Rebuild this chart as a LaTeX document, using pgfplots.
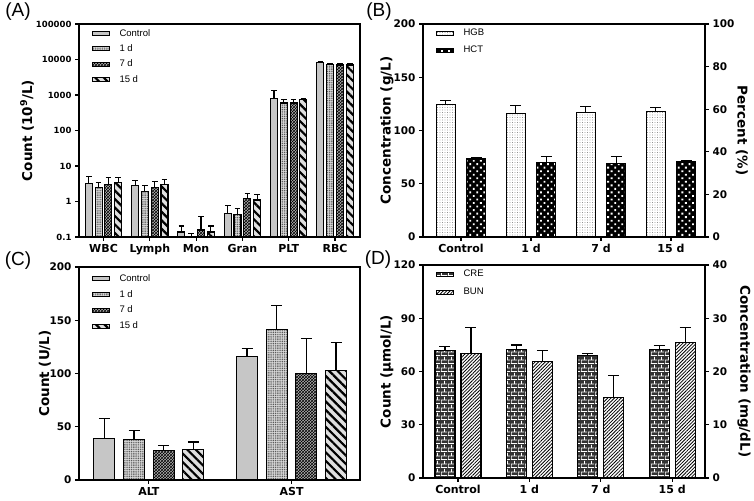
\documentclass[border=0pt]{standalone}
\usepackage{pgfplots}
\pgfplotsset{compat=1.18}
\usepackage{pgfplotstable}
\usepackage{fontspec}
\setmainfont{Liberation Sans}
\newfontfamily\djv{DejaVu Sans}
\usetikzlibrary{patterns,patterns.meta}

\pgfdeclarepatternformonly{mybricks}{\pgfqpoint{0pt}{0pt}}{\pgfqpoint{7pt}{8pt}}{\pgfqpoint{7pt}{8pt}}{%
  \pgfsetlinewidth{0.7pt}%
  \pgfpathmoveto{\pgfqpoint{0pt}{0.5pt}}\pgfpathlineto{\pgfqpoint{7pt}{0.5pt}}%
  \pgfpathmoveto{\pgfqpoint{0pt}{4.5pt}}\pgfpathlineto{\pgfqpoint{7pt}{4.5pt}}%
  \pgfpathmoveto{\pgfqpoint{0.5pt}{0.5pt}}\pgfpathlineto{\pgfqpoint{0.5pt}{4.5pt}}%
  \pgfpathmoveto{\pgfqpoint{4pt}{4.5pt}}\pgfpathlineto{\pgfqpoint{4pt}{8pt}}%
  \pgfusepath{stroke}}

\pgfplotsset{
  mylegend/.style={legend image code/.code={\draw[##1, line width=0.9pt] (0pt,-2pt) rectangle (17pt,2pt);}},
  eb/.style={error bars/y dir=plus, error bars/y explicit,
    error bars/error bar style={line width=1.1pt, black, solid},
    error bars/error mark options={rotate=90, mark size=#1, line width=1.1pt, black, solid}},
  eb/.default=5.5pt,
  sctrl/.style={draw=black, line width=1.1pt, fill=gray!45},
  s1/.style={draw=black, line width=1.1pt, preaction={fill=gray!30}, pattern={Dots[distance=1.8pt, radius=0.6pt]}, pattern color=black!70},
  s7/.style={draw=black, line width=1.1pt, preaction={fill=gray!60}, pattern=crosshatch, pattern color=black},
  s15/.style={draw=black, line width=1.1pt, preaction={fill=gray!25}, pattern={Lines[angle=-45, distance=6pt, line width=2.2pt]}, pattern color=black},
  shgb/.style={draw=black, line width=1.1pt, preaction={fill=white}, pattern={Dots[distance=2.5pt, radius=0.45pt]}, pattern color=black!65},
  shct/.style={draw=black, line width=1.1pt, preaction={fill=black}, pattern={Dots[angle=45, distance=5pt, radius=1.3pt]}, pattern color=white},
  scre/.style={draw=black, line width=1.1pt, preaction={fill=black!80}, pattern=mybricks, pattern color=white},
  sbun/.style={draw=black, line width=1.1pt, preaction={fill=white}, pattern={Lines[angle=45, distance=2.4pt, line width=0.8pt]}, pattern color=black},
  myaxis/.style={
    scale only axis, width=281pt, height=213pt, anchor=north west,
    ybar,
    axis line style={line width=1.3pt},
    every tick/.style={line width=1.2pt, black},
    major tick length=4pt,
    tick align=outside,
    xtick pos=bottom, ytick pos=left,
    /pgf/number format/assume math mode=true,
    yticklabel style={font=\djv\bfseries\fontsize{10.5}{12}\selectfont},
    xticklabel style={font=\djv\bfseries\fontsize{11}{13}\selectfont},
    label style={font=\djv\bfseries\fontsize{13.5}{15}\selectfont},
    legend style={draw=none, fill=none, anchor=north west, font=\fontsize{9.5}{11}\selectfont, inner sep=0pt, outer sep=0pt, row sep=3pt,
      /tikz/every odd column/.append style={column sep=8pt}},
    legend cell align=left,
  },
}

\pgfplotstableread{
x c ce a ae b be d de
0 3.3 1.7 2.5 0.9 2.95 1.75 3.5 1.2
1 2.75 1.25 1.9 1.0 2.5 1.2 3.1 1.0
2 0.138 0.066 0.095 0.029 0.157 0.21 0.138 0.066
3 0.47 0.29 0.44 0.18 1.19 0.49 1.1 0.44
4 790 540 595 145 595 145 740 80
5 8000 600 7300 500 7000 500 7000 800
}\tabA

\pgfplotstableread{
x hgb hgbe hct hcte
0 124.7 3.7 36.6 0.6
1 115.9 7.2 35.0 2.8
2 116.9 5.3 34.4 3.3
3 117.5 4.1 35.6 0.4
}\tabB

\pgfplotstableread{
x c ce a ae b be d de
0 39.2 18.5 37.9 8.8 27.9 4.4 28.8 6.9
1 115.7 8.1 141.4 22.2 99.7 33.2 102.5 26.3
}\tabC

\pgfplotstableread{
x cre cree bun bune
0 71.7 2.4 23.3 4.9
1 72.6 2.3 21.8 2.2
2 69.0 1.2 15.1 4.1
3 72.4 2.1 25.5 2.7
}\tabD

\begin{document}
\begin{tikzpicture}
\useasboundingbox (0,0) rectangle (754pt,500pt);

% ---------- (A)
\begin{axis}[myaxis, at={(79pt,476pt)},
  ymode=log, log origin=infty, ymin=0.1, ymax=100000,
  ytick={0.1,1,10,100,1000,10000,100000},
  yticklabels={0.1,1,10,100,1000,10000,100000},
  yminorticks=false,
  yticklabel style={font=\djv\bfseries\fontsize{8.5}{10}\selectfont},
  xmin=-0.53, xmax=5.54, xtick={0,1,2,3,4,5},
  xticklabels={WBC,Lymph,Mon,Gran,PLT,RBC},
  bar width=7pt,
  ylabel={Count (10\textsuperscript{9}/L)},
  ylabel style={at={(axis description cs:-0.185,0.5)}, anchor=center},
  legend style={at={(axis description cs:0.045,0.985)}},
]
\addplot[sctrl, eb=2.8pt, mylegend, bar shift=-14.7pt] table[x=x, y=c, y error=ce] {\tabA};
\addlegendentry{Control}
\addplot[s1, eb=2.8pt, mylegend, bar shift=-4.9pt] table[x=x, y=a, y error=ae] {\tabA};
\addlegendentry{1 d}
\addplot[s7, eb=2.8pt, mylegend, bar shift=4.9pt] table[x=x, y=b, y error=be] {\tabA};
\addlegendentry{7 d}
\addplot[s15, eb=2.8pt, mylegend, bar shift=14.7pt] table[x=x, y=d, y error=de] {\tabA};
\addlegendentry{15 d}
\end{axis}

% ---------- (B)
\begin{axis}[myaxis, at={(423pt,476pt)}, width=282pt,
  ymin=0, ymax=200, ytick={0,50,100,150,200},
  xmin=-0.543, xmax=3.486, xtick={0,1,2,3},
  xticklabels={Control,1 d,7 d,15 d},
  bar width=19pt,
  ylabel={Concentration (g/L)},
  ylabel style={at={(axis description cs:-0.128,0.5)}, anchor=center},
]
\addplot[shgb, eb, bar shift=-15.25pt] table[x=x, y=hgb, y error=hgbe] {\tabB};
\end{axis}
\begin{axis}[myaxis, at={(423pt,476pt)}, width=282pt,
  hide x axis,
  ymin=0, ymax=100, ytick={0,20,40,60,80,100},
  ytick pos=right, yticklabel pos=right,
  xmin=-0.543, xmax=3.486,
  bar width=19pt,
  ylabel={Percent (\%)},
  ylabel style={at={(axis description cs:1.131,0.5)}, anchor=center, rotate=180},
  legend style={at={(axis description cs:0.045,0.985)}, row sep=5pt},
]
\addlegendimage{shgb, mylegend}
\addlegendentry{HGB}
\addplot[shct, eb, mylegend, bar shift=15.25pt] table[x=x, y=hct, y error=hcte] {\tabB};
\addlegendentry{HCT}
\end{axis}

% ---------- (C)
\begin{axis}[myaxis, at={(79pt,233pt)},
  ymin=0, ymax=200, ytick={0,50,100,150,200},
  xmin=-0.49, xmax=1.48, xtick={0,1},
  xticklabels={ALT,AST},
  bar width=21pt,
  ylabel={Count (U/L)},
  ylabel style={at={(axis description cs:-0.121,0.5)}, anchor=center},
  legend style={at={(axis description cs:0.045,0.975)}, row sep=3.5pt},
]
\addplot[sctrl, eb, mylegend, bar shift=-44.5pt] table[x=x, y=c, y error=ce] {\tabC};
\addlegendentry{Control}
\addplot[s1, eb, mylegend, bar shift=-14.85pt] table[x=x, y=a, y error=ae] {\tabC};
\addlegendentry{1 d}
\addplot[s7, eb, mylegend, bar shift=14.85pt] table[x=x, y=b, y error=be] {\tabC};
\addlegendentry{7 d}
\addplot[s15, eb, mylegend, bar shift=44.5pt] table[x=x, y=d, y error=de] {\tabC};
\addlegendentry{15 d}
\end{axis}

% ---------- (D)
\begin{axis}[myaxis, at={(423pt,235pt)}, width=282pt,
  ymin=0, ymax=120, ytick={0,30,60,90,120},
  xmin=-0.49, xmax=3.46, xtick={0,1,2,3},
  xticklabels={Control,1 d,7 d,15 d},
  bar width=20pt,
  ylabel={Count (μmol/L)},
  ylabel style={at={(axis description cs:-0.128,0.5)}, anchor=center},
]
\addplot[scre, eb, bar shift=-13pt] table[x=x, y=cre, y error=cree] {\tabD};
\end{axis}
\begin{axis}[myaxis, at={(423pt,235pt)}, width=282pt,
  hide x axis,
  ymin=0, ymax=40, ytick={0,10,20,30,40},
  ytick pos=right, yticklabel pos=right,
  xmin=-0.49, xmax=3.46,
  bar width=20pt,
  ylabel={Concentration (mg/dL)},
  ylabel style={at={(axis description cs:1.138,0.5)}, anchor=center, rotate=180},
  legend style={at={(axis description cs:0.045,0.985)}, row sep=6pt},
]
\addlegendimage{scre, mylegend}
\addlegendentry{CRE}
\addplot[sbun, eb, mylegend, bar shift=13pt] table[x=x, y=bun, y error=bune] {\tabD};
\addlegendentry{BUN}
\end{axis}

\node[font=\fontsize{19}{21}\selectfont] at (18pt,488pt) {(A)};
\node[font=\fontsize{19}{21}\selectfont] at (379pt,488pt) {(B)};
\node[font=\fontsize{19}{21}\selectfont] at (18pt,239pt) {(C)};
\node[font=\fontsize{19}{21}\selectfont] at (378pt,240pt) {(D)};
\end{tikzpicture}
\end{document}
